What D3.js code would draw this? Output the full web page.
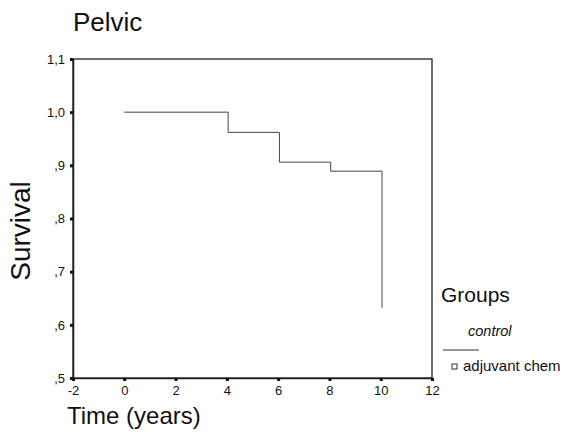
<!DOCTYPE html>
<html>
<head>
<meta charset="utf-8">
<script src="https://cdn.jsdelivr.net/npm/d3@7"></script>
<style>
  body { margin: 0; background: #fff; }
  text { font-family: 'Liberation Sans', Arial, sans-serif; fill: #111; }
</style>
</head>
<body>
<div id="chart"></div>
<script>
// survival steps (time in years, cumulative survival)
const stepTimes = [0, 4.05, 6.05, 8.05, 10.05]
const stepSurvival = [1.0, 0.962, 0.906, 0.889, 0.632]
const xTicks = [-2, 0, 2, 4, 6, 8, 10, 12]
const yTicks = [0.5, 0.6, 0.7, 0.8, 0.9, 1.0, 1.1]
const yTickLabels = [',5', ',6', ',7', ',8', ',9', '1,0', '1,1']
const groupLabels = ['control', 'adjuvant chem']

const margin = { top: 59, left: 73, right: 139, bottom: 54 }
const width = 571 - margin.left - margin.right
const height = 432 - margin.top - margin.bottom

const root = d3
  .select('#chart')
  .append('svg')
  .attr('width', 571)
  .attr('height', 432)

const svg = root
  .append('g')
  .attr('transform', 'translate(' + margin.left + ',' + margin.top + ')')

const xPositionScale = d3.scaleLinear().domain([-2, 12]).range([0, width])
const yPositionScale = d3.scaleLinear().domain([0.5, 1.1]).range([height, 0])

// frame
svg
  .append('rect')
  .attr('width', width)
  .attr('height', height)
  .attr('fill', 'none')
  .attr('stroke', '#222')
  .attr('stroke-width', 1.3)

const yAxis = d3
  .axisLeft(yPositionScale)
  .tickValues(yTicks)
  .tickFormat((d, i) => yTickLabels[i])
  .tickSize(3)
  .tickPadding(5)
svg.append('g').attr('class', 'axis y-axis').call(yAxis)

const xAxis = d3
  .axisBottom(xPositionScale)
  .tickValues(xTicks)
  .tickFormat(d => d)
  .tickSize(3)
  .tickPadding(5)
svg
  .append('g')
  .attr('class', 'axis x-axis')
  .attr('transform', 'translate(0,' + height + ')')
  .call(xAxis)

svg.selectAll('.axis .domain').attr('stroke', '#222').attr('stroke-width', 1.6)
svg.selectAll('.axis .tick line').attr('stroke', '#111').attr('stroke-width', 3)
svg.selectAll('.axis text').style('font-size', '13px').attr('fill', '#111')

// step line
const pts = stepTimes.map((t, i) => [t, stepSurvival[i]])
const line = d3
  .line()
  .x(d => xPositionScale(d[0]))
  .y(d => yPositionScale(d[1]))
  .curve(d3.curveStepAfter)

svg
  .append('path')
  .datum(pts)
  .attr('d', line)
  .attr('fill', 'none')
  .attr('stroke', '#444')
  .attr('stroke-width', 1)

// titles
root
  .append('text')
  .attr('x', 73)
  .attr('y', 31)
  .style('font-size', '26px')
  .text('Pelvic')

root
  .append('text')
  .attr('transform', 'translate(30,231) rotate(-90)')
  .attr('text-anchor', 'middle')
  .style('font-size', '28px')
  .text('Survival')

root
  .append('text')
  .attr('x', 67)
  .attr('y', 424)
  .style('font-size', '24px')
  .text('Time (years)')

// legend
const legend = root.append('g').attr('transform', 'translate(441,0)')
legend
  .append('text')
  .attr('x', 0)
  .attr('y', 302)
  .style('font-size', '21px')
  .text('Groups')
legend
  .append('text')
  .attr('x', 27)
  .attr('y', 336)
  .style('font-size', '14.5px')
  .style('font-style', 'italic')
  .text(groupLabels[0])
legend
  .append('line')
  .attr('x1', 2)
  .attr('x2', 38)
  .attr('y1', 350)
  .attr('y2', 350)
  .attr('stroke', '#333')
  .attr('stroke-width', 1)
legend
  .append('rect')
  .attr('x', 11)
  .attr('y', 364)
  .attr('width', 5)
  .attr('height', 5)
  .attr('fill', 'none')
  .attr('stroke', '#333')
  .attr('stroke-width', 1)
legend
  .append('text')
  .attr('x', 22)
  .attr('y', 371)
  .style('font-size', '15px')
  .text(groupLabels[1])
</script>
</body>
</html>
